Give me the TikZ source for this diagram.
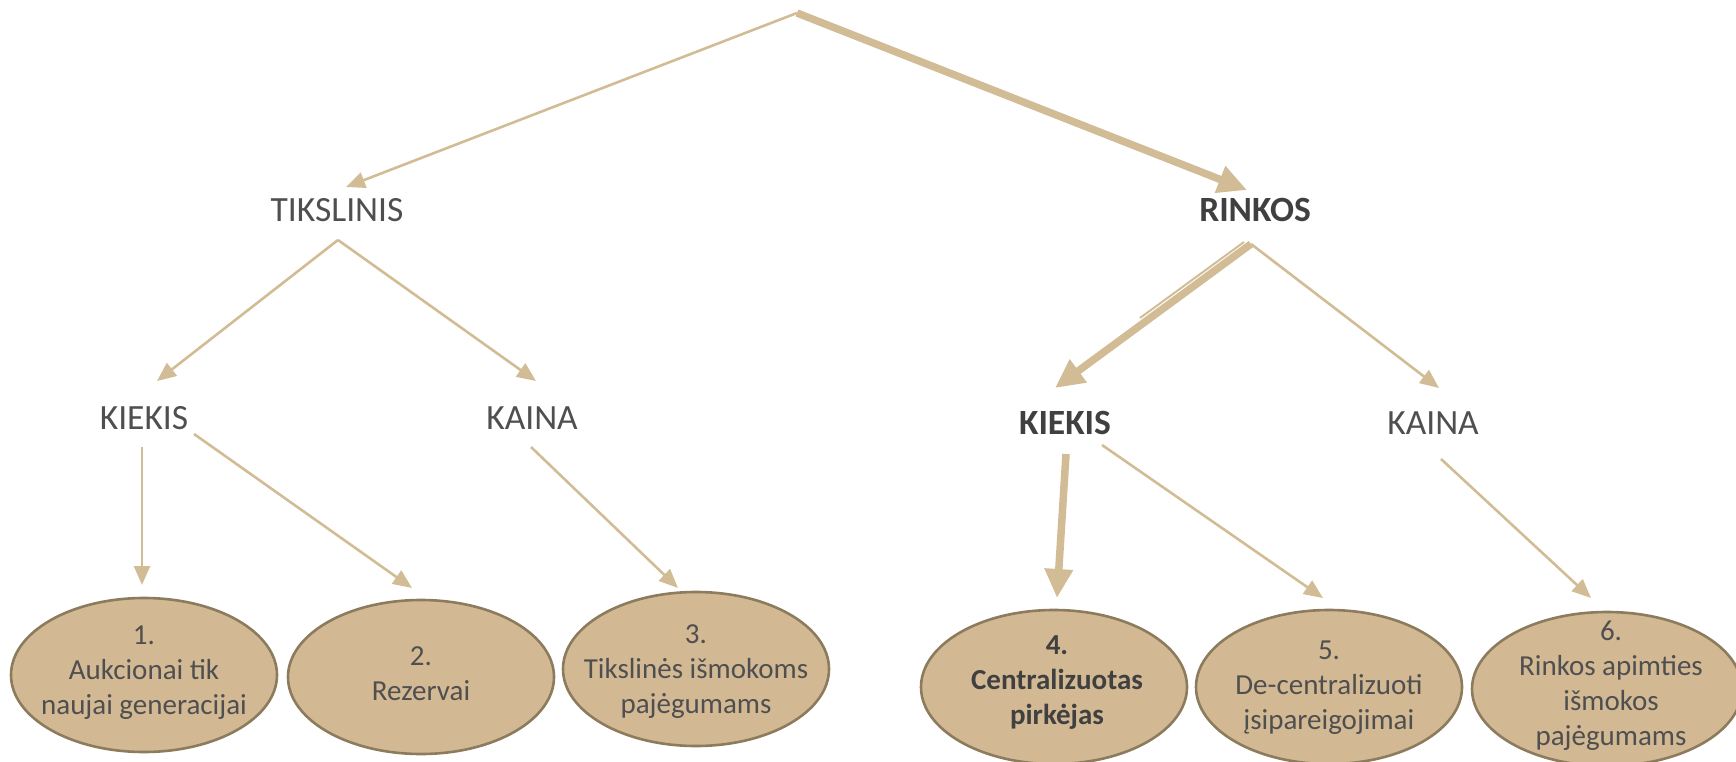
\documentclass[tikz,border=0pt]{standalone}
\usepackage{fontspec}
\setmainfont{Carlito}
\usetikzlibrary{shapes.geometric,arrows.meta,calc}
\definecolor{tan}{HTML}{D2BC95}
\definecolor{efill}{HTML}{D2B994}
\definecolor{edraw}{HTML}{8C7B5C}
\definecolor{txt}{HTML}{4F4F4F}
\definecolor{txtb}{HTML}{404040}
\tikzset{
  lbl/.style={text=txt,inner sep=0pt,font=\fontsize{35.5}{42}\selectfont},
  lblb/.style={text=txtb,inner sep=0pt,font=\fontsize{35.5}{42}\selectfont\bfseries},
  oval/.style={ellipse,draw=edraw,fill=efill,line width=2.6pt,inner sep=0pt,
    minimum width=266pt,minimum height=154pt},
  otext/.style={align=center,text=txt,inner sep=0pt,font=\fontsize{29}{35}\selectfont},
  otextb/.style={otext,text=txtb,font=\fontsize{29}{35}\selectfont\bfseries},
  thin/.style={draw=tan,line width=2.6pt,-{Triangle[length=19pt,width=16pt]}},
  thick/.style={draw=tan,line width=7.5pt,-{Triangle[length=29pt,width=27pt]}},
}
\begin{document}
\begin{tikzpicture}[x=1pt,y=-1pt]
\useasboundingbox (0,0) rectangle (1736,762);
% labels
\node[lbl]  (tiks) at (337,210) {TIKSLINIS};
\node[lblb] (rink) at (1255,210) {RINKOS};
\node[lbl]  (kiekL) at (144,418) {KIEKIS};
\node[lbl]  (kainL) at (532,418) {KAINA};
\node[lblb] (kiekR) at (1065,423) {KIEKIS};
\node[lbl]  (kainR) at (1433,423) {KAINA};
% ovals
\node[oval] (e1) at (144,675) {};
\node[oval] (e2) at (421,677) {};
\node[oval] (e3) at (696,669) {};
\node[oval] (e4) at (1054,687) {};
\node[oval] (e5) at (1329,687) {};
\node[oval,minimum width=270pt] (e6) at (1607,689) {};
\node[otext]  (x1) at (144,673) {1.\\Aukcionai tik\\naujai generacijai};
\node[otext]  (x2) at (421,674) {2.\\Rezervai};
\node[otext]  (x3) at (696,672) {3.\\Tikslinės išmokoms\\pajėgumams};
\node[otextb] (x4) at (1057,683) {4.\\Centralizuotas\\pirkėjas};
\node[otext]  (x5) at (1329,688) {5.\\De-centralizuoti\\įsipareigojimai};
\node[otext]  (x6) at (1611,686) {6.\\Rinkos apimties\\išmokos\\pajėgumams};
% connector points
\coordinate (root) at (797,13);
\coordinate (tA) at (338,240);
\coordinate (rA) at (1251,244);
\coordinate (rA2) at (1244,242);
\coordinate (rMid) at (1140,318);
\coordinate (kLv) at (142,447);
\coordinate (kLd) at (194,434);
\coordinate (kaL) at (531,447);
\coordinate (kRv) at (1066,454);
\coordinate (kRd) at (1102,445);
\coordinate (kaR) at (1441,459);
\coordinate (tTiks) at (346,187);
\coordinate (tRink) at (1247,190);
\coordinate (tKiekL) at (157,381);
\coordinate (tKainL) at (536,381);
\coordinate (tKiekR) at (1055,388);
\coordinate (tKainR) at (1439,388);
\coordinate (t1) at (142,585);
\coordinate (t2) at (412,588);
\coordinate (t3) at (678,588);
\coordinate (t4) at (1057,598);
\coordinate (t5) at (1323,598);
\coordinate (t6) at (1591,598);
% connectors
\draw[thin] (root) -- (tTiks);
\draw[thick] (root) -- (tRink);
\draw[thin] (tA) -- (tKiekL);
\draw[thin] (tA) -- (tKainL);
\draw[thick] (rA) -- (tKiekR);
\draw[draw=tan,line width=2pt] (rA2) -- (rMid);
\draw[thin] (rA) -- (tKainR);
\draw[thin] (kLv) -- (t1);
\draw[thin] (kLd) -- (t2);
\draw[thin] (kaL) -- (t3);
\draw[thick] (kRv) -- (t4);
\draw[thin] (kRd) -- (t5);
\draw[thin] (kaR) -- (t6);
\end{tikzpicture}
\end{document}
